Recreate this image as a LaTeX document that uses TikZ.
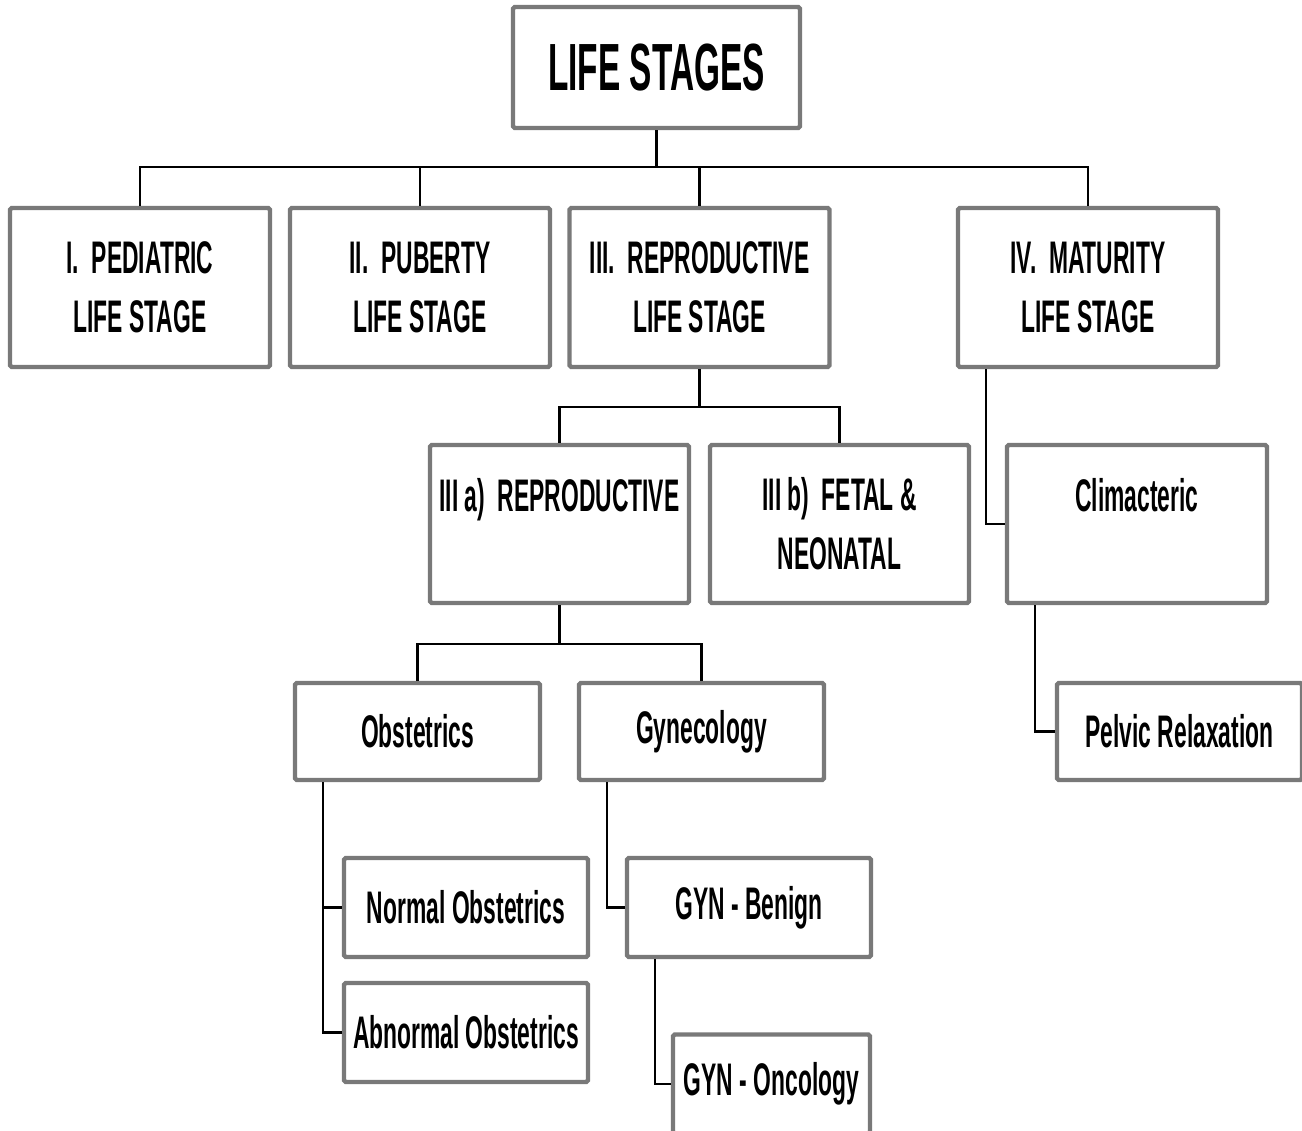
\documentclass[tikz,border=0pt]{standalone}
\usepackage{fontspec}
\setmainfont[FakeStretch=0.5]{Liberation Sans}
\tikzset{
  box/.style={draw=gray!95!black, line width=2.5pt, rounded corners=1pt, fill=white,
    inner sep=0pt, align=center, font=\fontsize{26}{33.5}\selectfont\bfseries},
  link/.style={draw=black, line width=1.4pt}
}
\begin{document}
\begin{tikzpicture}[x=0.02cm, y=-0.02cm]
		\useasboundingbox (0,0) rectangle (1302,1130);

		% Titulo
		\node[box, minimum width=5.74cm, minimum height=2.42cm, font=\fontsize{38}{45}\selectfont\bfseries] (life) at (656.5,67.5) {LIFE STAGES};

		% Etapas principales
		\node[box, minimum width=5.2cm, minimum height=3.18cm] (ped) at (140,287.5) {I.~~PEDIATRIC\\LIFE STAGE};
		\node[box, minimum width=5.2cm, minimum height=3.18cm] (pub) at (420,287.5) {II.~~PUBERTY\\LIFE STAGE};
		\node[box, minimum width=5.2cm, minimum height=3.18cm] (rep) at (699.5,287.5) {III.~~REPRODUCTIVE\\LIFE STAGE};
		\node[box, minimum width=5.2cm, minimum height=3.18cm] (mat) at (1088,287.5) {IV.~~MATURITY\\LIFE STAGE};

		% Segundo nivel
		\node[box, minimum width=5.18cm, minimum height=3.16cm] (repa) at (559.5,524) {III a)~~REPRODUCTIVE\\\mbox{}};
		\node[box, minimum width=5.18cm, minimum height=3.16cm] (repb) at (839.5,524) {III b)~~FETAL \&\\NEONATAL};
		\node[box, minimum width=5.2cm, minimum height=3.16cm] (clim) at (1137,524) {Climacteric\\\mbox{}};

		% Tercer nivel
		\node[box, minimum width=4.9cm, minimum height=1.94cm] (obst) at (417.5,731.5) {Obstetrics};
		\node[box, minimum width=4.9cm, minimum height=1.94cm] (gyn) at (701.5,731.5) {Gynecology};
		\node[box, minimum width=4.9cm, minimum height=1.94cm] (pelv) at (1179.5,731.5) {Pelvic Relaxation};

		% Cuarto nivel
		\node[box, minimum width=4.88cm, minimum height=1.98cm] (norm) at (466,907.5) {Normal Obstetrics};
		\node[box, minimum width=4.88cm, minimum height=1.98cm] (abn) at (466,1032.5) {Abnormal Obstetrics};
		\node[box, minimum width=4.88cm, minimum height=1.98cm] (ben) at (749,907.5) {GYN - Benign};
		\node[box, minimum width=3.94cm, minimum height=1.98cm] (onc) at (771.5,1084) {GYN - Oncology};

		% Conexiones
		\draw[link] (life.south) -- ++(0,37) coordinate (bus1);
		\foreach \n in {ped,pub,rep,mat} \draw[link] (\n.north) |- (bus1);
		\draw[link] (rep.south) -- ++(0,38) coordinate (bus2);
		\foreach \n in {repa,repb} \draw[link] (\n.north) |- (bus2);
		\draw[link] (repa.south) -- ++(0,39) coordinate (bus3);
		\foreach \n in {obst,gyn} \draw[link] (\n.north) |- (bus3);

		\draw[link] ([xshift=0.6cm]mat.south west) |- (clim.west);
		\draw[link] ([xshift=0.6cm]clim.south west) |- (pelv.west);
		\draw[link] ([xshift=0.6cm]obst.south west) |- (abn.west);
		\draw[link] ([xshift=0.6cm]obst.south west) |- (norm.west);
		\draw[link] ([xshift=0.6cm]gyn.south west) |- (ben.west);
		\draw[link] ([xshift=0.6cm]ben.south west) |- (onc.west);
	\end{tikzpicture}
\end{document}
